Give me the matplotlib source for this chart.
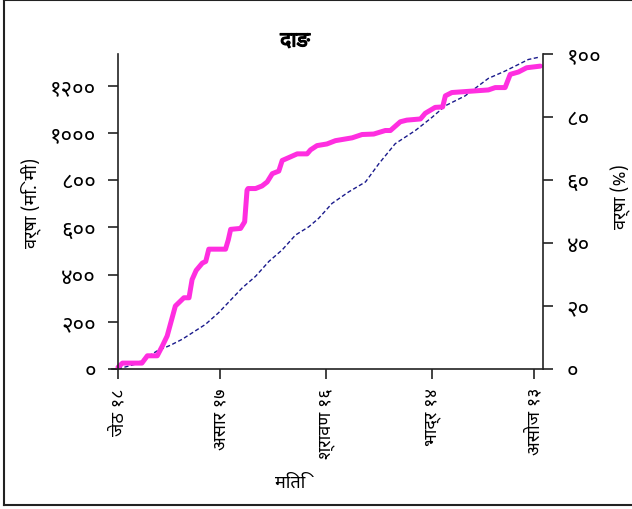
import matplotlib
matplotlib.use("Agg")
import matplotlib.pyplot as plt
import matplotlib.patheffects as pe
from matplotlib import font_manager as fm
from matplotlib.lines import Line2D

# ---------------- data ----------------
title = "दाङ"
xlabel = "मिति"
ylabel_left = "वर्षा (मि. मी)"
ylabel_right = "वर्षा (%)"

xtick_days = [0, 30, 61, 92, 122]
xtick_labels = ["जेठ १८", "असार १७", "श्रावण १६", "भाद्र १४", "असोज १३"]

ytick_left = [0, 200, 400, 600, 800, 1000, 1200]
ytick_left_labels = ["०", "२००", "४००", "६००", "८००", "१०००", "१२००"]
ytick_right = [0, 20, 40, 60, 80, 100]
ytick_right_labels = ["०", "२०", "४०", "६०", "८०", "१००"]

normal_total = 1335  # mm corresponding to 100 %

# observed cumulative rainfall (mm)
obs_day = [0, 1.3, 7, 8.6, 11.5, 13, 14.4, 16.8, 18.3, 19.3, 20.8, 21.7, 22.9,
           24.7, 25.7, 26.6, 31.5, 32.3, 33, 35.9, 37.1, 37.8, 38.1, 40.3, 42.2,
           43.7, 45.2, 47.1, 48.1, 50, 52.5, 55.4, 56.4, 58.3, 61.2, 63.7, 68.6,
           71.5, 74.9, 78.3, 79.8, 82.7, 84.6, 88.6, 90, 92.9, 95.1, 95.9, 97.8,
           101.7, 108.5, 110.5, 113.4, 114.9, 117.3, 119.7, 123.7]
obs_mm = [7, 25, 25, 56, 56, 98, 140, 267, 288, 302, 302, 379, 418,
          449, 456, 508, 508, 547, 592, 596, 624, 758, 765, 765, 776,
          793, 828, 839, 884, 896, 912, 912, 929, 947, 954, 968, 980,
          994, 996, 1011, 1011, 1048, 1055, 1060, 1084, 1109, 1111, 1158, 1172,
          1176, 1183, 1193, 1193, 1249, 1259, 1277, 1284]

# normal cumulative rainfall (mm)
nor_day = [0, 5.2, 11.5, 15.4, 18.8, 25.6, 29.5, 36.4, 40.3, 44.2, 48.1, 52,
           55.9, 58.8, 62.7, 67.6, 72.5, 76.4, 81.2, 87.1, 92, 95.9, 101.7,
           108.5, 113.4, 117.3, 120.2, 123.7]
nor_mm = [0, 21, 77, 101, 126, 189, 239, 344, 393, 456, 505, 568,
          603, 639, 702, 751, 793, 870, 955, 1011, 1067, 1116, 1158,
          1232, 1263, 1291, 1312, 1323]

# ---------------- fonts ----------------
names = {f.name for f in fm.fontManager.ttflist}
pref = ["Noto Sans Devanagari", "Mukta", "Poppins", "Annapurna SIL"]
dev = [p for p in pref if p in names][:1]
plt.rcParams['font.family'] = dev + ['DejaVu Sans']

# ---------------- figure ----------------
fig = plt.figure(figsize=(6.32, 5.10), dpi=100)
ax = fig.add_axes([112 / 632, 0.2745, 431 / 632, 0.6175])

ax.plot(nor_day, nor_mm, color="#1a1a8c", lw=1.0, ls=(0, (3, 1.8)))
ax.plot(obs_day, obs_mm, color="#ff2ee0", lw=3.6, solid_capstyle="round")

ax.set_xlim(-1.76, 124.5)
ax.set_ylim(0, normal_total)

for s in ["top", "right"]:
    ax.spines[s].set_visible(False)
for s in ["left", "bottom"]:
    ax.spines[s].set_color("#222222")
    ax.spines[s].set_linewidth(1.2)
ax.spines["left"].set_position(("data", 0))

ax.set_xticks(xtick_days)
ax.set_xticklabels(xtick_labels, rotation=90, va="top", ha="center", fontsize=13)
ax.set_yticks(ytick_left)
ax.set_yticklabels(ytick_left_labels, fontsize=16)
ax.tick_params(axis="both", direction="out", length=7, width=1.2, color="#222222")
ax.tick_params(axis="y", pad=9)
ax.tick_params(axis="x", pad=6)

ax2 = ax.twinx()
ax2.set_ylim(0, 100)
ax2.set_yticks(ytick_right)
ax2.set_yticklabels(ytick_right_labels, fontsize=16)
for s in ["top", "left", "bottom"]:
    ax2.spines[s].set_visible(False)
ax2.spines["right"].set_color("#222222")
ax2.spines["right"].set_linewidth(1.2)
ax2.tick_params(axis="y", direction="out", length=7, width=1.2, color="#222222", pad=10)

t = fig.text(295 / 632, 1 - 42 / 510, title, ha="center", va="center",
             fontsize=15, fontweight="bold")
t.set_path_effects([pe.withStroke(linewidth=0.9, foreground="black")])
fig.text(290 / 632, 1 - 483 / 510, xlabel, ha="center", va="center", fontsize=13)
fig.text(31 / 632, 1 - 203 / 510, ylabel_left, ha="center", va="center",
         rotation=90, fontsize=13)
fig.text(621 / 632, 1 - 197 / 510, ylabel_right, ha="center", va="center",
         rotation=90, fontsize=13)

# outer frame
W, H = 632, 510
frame = [((4, 1), (4, 506)), ((4, 1), (640, 1)), ((4, 506), (640, 506))]
for (x0, y0), (x1, y1) in frame:
    fig.add_artist(Line2D([x0 / W, x1 / W], [1 - y0 / H, 1 - y1 / H],
                          transform=fig.transFigure, color="#222222", lw=1.5))

fig.savefig("out.png", dpi=100)
